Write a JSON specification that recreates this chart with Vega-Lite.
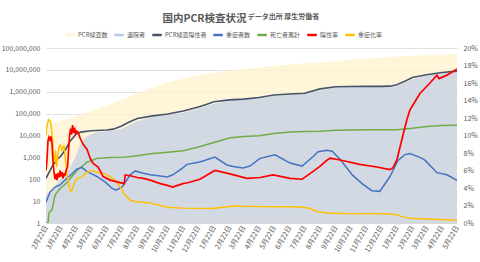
{
  "$schema": "https://vega.github.io/schema/vega-lite/v6.json",
  "width": 411,
  "height": 175,
  "autosize": {"type": "none"},
  "padding": {"left": 46, "top": 48, "right": 23, "bottom": 39},
  "background": "white",
  "title": {
    "text": "国内PCR検査状況",
    "anchor": "middle",
    "frame": "group",
    "dx": -47,
    "baseline": "alphabetic",
    "font": "Noto Sans CJK JP",
    "fontSize": 10.5,
    "fontWeight": "bold",
    "color": "#595959",
    "offset": -20
  },
  "datasets": {
    "tests": [
      {"d": "2020-02-22", "v": 31000}, {"d": "2020-03-11", "v": 40000}, {"d": "2020-04-03", "v": 55000},
      {"d": "2020-04-14", "v": 66000}, {"d": "2020-05-10", "v": 110000}, {"d": "2020-06-09", "v": 190000},
      {"d": "2020-07-19", "v": 400000}, {"d": "2020-08-22", "v": 850000}, {"d": "2020-10-07", "v": 2100000},
      {"d": "2020-12-10", "v": 5300000}, {"d": "2021-02-17", "v": 9100000}, {"d": "2021-04-24", "v": 13000000},
      {"d": "2021-06-29", "v": 18600000}, {"d": "2021-08-22", "v": 22000000}, {"d": "2021-11-09", "v": 31600000},
      {"d": "2022-02-17", "v": 44700000}, {"d": "2022-05-22", "v": 53000000}
    ],
    "discharged": [
      {"d": "2020-02-22", "v": 20}, {"d": "2020-03-08", "v": 40}, {"d": "2020-03-21", "v": 100},
      {"d": "2020-04-08", "v": 300}, {"d": "2020-04-20", "v": 960}, {"d": "2020-04-30", "v": 3800},
      {"d": "2020-05-10", "v": 7700}, {"d": "2020-05-20", "v": 11000}, {"d": "2020-06-05", "v": 14500},
      {"d": "2020-06-22", "v": 15800}, {"d": "2020-07-22", "v": 20000}, {"d": "2020-08-22", "v": 45000},
      {"d": "2020-09-22", "v": 70000}, {"d": "2020-10-22", "v": 87000}, {"d": "2020-11-22", "v": 110000},
      {"d": "2020-12-22", "v": 170000}, {"d": "2021-01-22", "v": 280000}, {"d": "2021-02-22", "v": 400000},
      {"d": "2021-03-22", "v": 440000}, {"d": "2021-04-22", "v": 500000}, {"d": "2021-05-22", "v": 630000},
      {"d": "2021-06-22", "v": 760000}, {"d": "2021-07-22", "v": 820000}, {"d": "2021-08-22", "v": 1100000},
      {"d": "2021-09-22", "v": 1600000}, {"d": "2021-10-22", "v": 1690000}, {"d": "2021-11-22", "v": 1705000},
      {"d": "2021-12-22", "v": 1710000}, {"d": "2022-01-22", "v": 1800000}, {"d": "2022-02-22", "v": 3600000},
      {"d": "2022-03-22", "v": 5500000}, {"d": "2022-04-22", "v": 7000000}, {"d": "2022-05-22", "v": 8200000}
    ],
    "positives": [
      {"d": "2020-02-22", "v": 110}, {"d": "2020-03-01", "v": 250}, {"d": "2020-03-07", "v": 450},
      {"d": "2020-03-15", "v": 800}, {"d": "2020-03-22", "v": 1100}, {"d": "2020-04-01", "v": 2300},
      {"d": "2020-04-10", "v": 5500}, {"d": "2020-04-22", "v": 11500}, {"d": "2020-05-01", "v": 14300},
      {"d": "2020-05-22", "v": 16500}, {"d": "2020-06-22", "v": 17900}, {"d": "2020-07-05", "v": 19500},
      {"d": "2020-07-22", "v": 27000}, {"d": "2020-08-05", "v": 40000}, {"d": "2020-08-22", "v": 60000},
      {"d": "2020-09-22", "v": 79000}, {"d": "2020-10-22", "v": 96000}, {"d": "2020-11-22", "v": 132000},
      {"d": "2020-12-22", "v": 200000}, {"d": "2021-01-08", "v": 270000}, {"d": "2021-01-22", "v": 350000},
      {"d": "2021-02-22", "v": 425000}, {"d": "2021-03-22", "v": 460000}, {"d": "2021-04-22", "v": 550000},
      {"d": "2021-05-22", "v": 710000}, {"d": "2021-06-22", "v": 785000}, {"d": "2021-07-22", "v": 860000},
      {"d": "2021-08-22", "v": 1350000}, {"d": "2021-09-22", "v": 1700000}, {"d": "2021-10-22", "v": 1750000},
      {"d": "2021-11-22", "v": 1760000}, {"d": "2021-12-22", "v": 1770000}, {"d": "2022-01-08", "v": 1800000},
      {"d": "2022-01-22", "v": 2100000}, {"d": "2022-02-08", "v": 3100000}, {"d": "2022-02-22", "v": 4500000},
      {"d": "2022-03-22", "v": 6000000}, {"d": "2022-04-22", "v": 7600000}, {"d": "2022-05-22", "v": 8800000}
    ],
    "severe": [
      {"d": "2020-02-22", "v": 9}, {"d": "2020-03-01", "v": 26}, {"d": "2020-03-11", "v": 44},
      {"d": "2020-03-21", "v": 55}, {"d": "2020-03-31", "v": 92}, {"d": "2020-04-13", "v": 170},
      {"d": "2020-04-24", "v": 300}, {"d": "2020-05-04", "v": 340}, {"d": "2020-05-14", "v": 225},
      {"d": "2020-06-03", "v": 132}, {"d": "2020-06-20", "v": 72}, {"d": "2020-07-03", "v": 38},
      {"d": "2020-07-11", "v": 32}, {"d": "2020-07-23", "v": 45}, {"d": "2020-08-08", "v": 160},
      {"d": "2020-08-18", "v": 240}, {"d": "2020-09-03", "v": 190}, {"d": "2020-09-17", "v": 160},
      {"d": "2020-10-07", "v": 140}, {"d": "2020-10-21", "v": 128}, {"d": "2020-11-01", "v": 160},
      {"d": "2020-11-21", "v": 330}, {"d": "2020-11-29", "v": 480}, {"d": "2020-12-25", "v": 620},
      {"d": "2021-01-24", "v": 1040}, {"d": "2021-02-17", "v": 450}, {"d": "2021-03-01", "v": 380},
      {"d": "2021-03-21", "v": 330}, {"d": "2021-04-04", "v": 400}, {"d": "2021-04-24", "v": 900},
      {"d": "2021-05-24", "v": 1300}, {"d": "2021-06-23", "v": 550}, {"d": "2021-07-17", "v": 400},
      {"d": "2021-08-08", "v": 1100}, {"d": "2021-08-18", "v": 1800}, {"d": "2021-09-05", "v": 2100},
      {"d": "2021-09-15", "v": 1900}, {"d": "2021-10-01", "v": 800}, {"d": "2021-10-26", "v": 150},
      {"d": "2021-11-15", "v": 60}, {"d": "2021-12-03", "v": 30}, {"d": "2021-12-19", "v": 28},
      {"d": "2022-01-08", "v": 130}, {"d": "2022-01-24", "v": 700}, {"d": "2022-02-06", "v": 1300},
      {"d": "2022-02-17", "v": 1500}, {"d": "2022-03-09", "v": 1000}, {"d": "2022-03-19", "v": 750},
      {"d": "2022-04-12", "v": 200}, {"d": "2022-05-02", "v": 160}, {"d": "2022-05-22", "v": 90}
    ],
    "deaths": [
      {"d": "2020-02-22", "v": 1}, {"d": "2020-02-26", "v": 1}, {"d": "2020-02-28", "v": 3},
      {"d": "2020-03-05", "v": 4}, {"d": "2020-03-10", "v": 15}, {"d": "2020-03-13", "v": 22},
      {"d": "2020-03-22", "v": 40}, {"d": "2020-04-03", "v": 67}, {"d": "2020-04-24", "v": 250},
      {"d": "2020-05-14", "v": 600}, {"d": "2020-06-03", "v": 900}, {"d": "2020-06-29", "v": 980},
      {"d": "2020-07-22", "v": 1000}, {"d": "2020-08-22", "v": 1200}, {"d": "2020-09-22", "v": 1500},
      {"d": "2020-10-22", "v": 1700}, {"d": "2020-11-22", "v": 2000}, {"d": "2020-12-22", "v": 3000},
      {"d": "2021-01-22", "v": 4800}, {"d": "2021-02-22", "v": 7600}, {"d": "2021-03-22", "v": 8900},
      {"d": "2021-04-22", "v": 9700}, {"d": "2021-05-22", "v": 12300}, {"d": "2021-06-22", "v": 14400},
      {"d": "2021-07-22", "v": 15100}, {"d": "2021-08-22", "v": 15800}, {"d": "2021-09-22", "v": 17300},
      {"d": "2021-10-22", "v": 18000}, {"d": "2021-11-22", "v": 18300}, {"d": "2021-12-22", "v": 18400},
      {"d": "2022-01-22", "v": 18500}, {"d": "2022-02-22", "v": 21500}, {"d": "2022-03-22", "v": 26000},
      {"d": "2022-04-22", "v": 28500}, {"d": "2022-05-22", "v": 29500}
    ],
    "posrate": [
      {"d": "2020-02-22", "v": 0.060}, {"d": "2020-02-24", "v": 0.072}, {"d": "2020-02-26", "v": 0.094},
      {"d": "2020-02-28", "v": 0.098}, {"d": "2020-03-01", "v": 0.095}, {"d": "2020-03-03", "v": 0.099},
      {"d": "2020-03-05", "v": 0.090}, {"d": "2020-03-07", "v": 0.070}, {"d": "2020-03-09", "v": 0.058},
      {"d": "2020-03-11", "v": 0.050}, {"d": "2020-03-13", "v": 0.056}, {"d": "2020-03-15", "v": 0.049},
      {"d": "2020-03-17", "v": 0.057}, {"d": "2020-03-19", "v": 0.052}, {"d": "2020-03-21", "v": 0.060},
      {"d": "2020-03-23", "v": 0.053}, {"d": "2020-03-25", "v": 0.058}, {"d": "2020-03-27", "v": 0.051},
      {"d": "2020-03-29", "v": 0.056}, {"d": "2020-03-31", "v": 0.055}, {"d": "2020-04-02", "v": 0.060},
      {"d": "2020-04-05", "v": 0.064}, {"d": "2020-04-07", "v": 0.083}, {"d": "2020-04-09", "v": 0.100},
      {"d": "2020-04-11", "v": 0.108}, {"d": "2020-04-13", "v": 0.101}, {"d": "2020-04-15", "v": 0.112},
      {"d": "2020-04-17", "v": 0.103}, {"d": "2020-04-19", "v": 0.109}, {"d": "2020-04-21", "v": 0.101},
      {"d": "2020-04-23", "v": 0.105}, {"d": "2020-04-26", "v": 0.104}, {"d": "2020-04-30", "v": 0.097},
      {"d": "2020-05-06", "v": 0.090}, {"d": "2020-05-14", "v": 0.084}, {"d": "2020-05-20", "v": 0.074},
      {"d": "2020-05-26", "v": 0.068}, {"d": "2020-06-05", "v": 0.064}, {"d": "2020-06-15", "v": 0.053},
      {"d": "2020-06-29", "v": 0.049}, {"d": "2020-07-13", "v": 0.047}, {"d": "2020-07-27", "v": 0.045},
      {"d": "2020-07-29", "v": 0.055}, {"d": "2020-08-08", "v": 0.054}, {"d": "2020-08-22", "v": 0.052},
      {"d": "2020-09-03", "v": 0.051}, {"d": "2020-09-17", "v": 0.049}, {"d": "2020-10-07", "v": 0.045},
      {"d": "2020-10-21", "v": 0.043}, {"d": "2020-11-01", "v": 0.041}, {"d": "2020-11-21", "v": 0.045},
      {"d": "2020-12-01", "v": 0.046}, {"d": "2020-12-25", "v": 0.050}, {"d": "2021-01-24", "v": 0.060},
      {"d": "2021-02-17", "v": 0.057}, {"d": "2021-03-29", "v": 0.051}, {"d": "2021-04-24", "v": 0.052},
      {"d": "2021-05-20", "v": 0.055}, {"d": "2021-06-23", "v": 0.051}, {"d": "2021-07-17", "v": 0.050},
      {"d": "2021-08-08", "v": 0.059}, {"d": "2021-08-22", "v": 0.065}, {"d": "2021-09-05", "v": 0.072},
      {"d": "2021-09-11", "v": 0.074}, {"d": "2021-10-01", "v": 0.072}, {"d": "2021-11-09", "v": 0.067},
      {"d": "2021-12-13", "v": 0.064}, {"d": "2022-01-08", "v": 0.061}, {"d": "2022-01-14", "v": 0.063},
      {"d": "2022-01-22", "v": 0.072}, {"d": "2022-01-28", "v": 0.086}, {"d": "2022-02-03", "v": 0.100},
      {"d": "2022-02-11", "v": 0.118}, {"d": "2022-02-17", "v": 0.129}, {"d": "2022-03-09", "v": 0.148},
      {"d": "2022-03-29", "v": 0.160}, {"d": "2022-04-12", "v": 0.169}, {"d": "2022-04-16", "v": 0.165},
      {"d": "2022-05-02", "v": 0.169}, {"d": "2022-05-22", "v": 0.176}
    ],
    "sevrate": [
      {"d": "2020-02-22", "v": 0.100}, {"d": "2020-02-23", "v": 0.108}, {"d": "2020-02-27", "v": 0.118},
      {"d": "2020-03-02", "v": 0.116}, {"d": "2020-03-06", "v": 0.097}, {"d": "2020-03-08", "v": 0.076},
      {"d": "2020-03-11", "v": 0.070}, {"d": "2020-03-12", "v": 0.083}, {"d": "2020-03-14", "v": 0.064},
      {"d": "2020-03-19", "v": 0.087}, {"d": "2020-03-22", "v": 0.089}, {"d": "2020-03-25", "v": 0.083},
      {"d": "2020-03-29", "v": 0.089}, {"d": "2020-04-01", "v": 0.070}, {"d": "2020-04-07", "v": 0.045},
      {"d": "2020-04-11", "v": 0.036}, {"d": "2020-04-14", "v": 0.0375}, {"d": "2020-04-18", "v": 0.045},
      {"d": "2020-04-24", "v": 0.051}, {"d": "2020-05-04", "v": 0.053}, {"d": "2020-05-14", "v": 0.058},
      {"d": "2020-05-24", "v": 0.060}, {"d": "2020-06-03", "v": 0.058}, {"d": "2020-06-15", "v": 0.057},
      {"d": "2020-06-29", "v": 0.053}, {"d": "2020-07-09", "v": 0.049}, {"d": "2020-07-19", "v": 0.041},
      {"d": "2020-07-29", "v": 0.032}, {"d": "2020-08-08", "v": 0.026}, {"d": "2020-08-22", "v": 0.024},
      {"d": "2020-09-17", "v": 0.023}, {"d": "2020-10-07", "v": 0.020}, {"d": "2020-10-21", "v": 0.018},
      {"d": "2020-11-21", "v": 0.017}, {"d": "2021-01-20", "v": 0.0165}, {"d": "2021-03-01", "v": 0.0195},
      {"d": "2021-04-04", "v": 0.019}, {"d": "2021-05-14", "v": 0.0185}, {"d": "2021-06-23", "v": 0.0185},
      {"d": "2021-07-19", "v": 0.018}, {"d": "2021-08-02", "v": 0.0165}, {"d": "2021-08-16", "v": 0.013},
      {"d": "2021-09-05", "v": 0.0115}, {"d": "2021-10-07", "v": 0.0108}, {"d": "2022-01-08", "v": 0.0105},
      {"d": "2022-01-24", "v": 0.009}, {"d": "2022-02-03", "v": 0.007}, {"d": "2022-02-17", "v": 0.0055},
      {"d": "2022-03-19", "v": 0.0045}, {"d": "2022-05-22", "v": 0.003}
    ]
  },
  "layer": [
    {
      "layer": [
        {
          "data": {"name": "tests"},
          "mark": {"type": "area", "opacity": 0.75, "clip": true},
          "encoding": {
            "x": {
              "field": "d", "type": "temporal",
              "scale": {"type": "utc", "domain": [{"year": 2020, "month": 2, "date": 22, "utc": true}, {"year": 2022, "month": 5, "date": 22, "utc": true}]},
              "axis": {
                "values": [
                  {"year": 2020, "month": 2, "date": 22, "utc": true}, {"year": 2020, "month": 3, "date": 22, "utc": true},
                  {"year": 2020, "month": 4, "date": 22, "utc": true}, {"year": 2020, "month": 5, "date": 22, "utc": true},
                  {"year": 2020, "month": 6, "date": 22, "utc": true}, {"year": 2020, "month": 7, "date": 22, "utc": true},
                  {"year": 2020, "month": 8, "date": 22, "utc": true}, {"year": 2020, "month": 9, "date": 22, "utc": true},
                  {"year": 2020, "month": 10, "date": 22, "utc": true}, {"year": 2020, "month": 11, "date": 22, "utc": true},
                  {"year": 2020, "month": 12, "date": 22, "utc": true}, {"year": 2021, "month": 1, "date": 22, "utc": true},
                  {"year": 2021, "month": 2, "date": 22, "utc": true}, {"year": 2021, "month": 3, "date": 22, "utc": true},
                  {"year": 2021, "month": 4, "date": 22, "utc": true}, {"year": 2021, "month": 5, "date": 22, "utc": true},
                  {"year": 2021, "month": 6, "date": 22, "utc": true}, {"year": 2021, "month": 7, "date": 22, "utc": true},
                  {"year": 2021, "month": 8, "date": 22, "utc": true}, {"year": 2021, "month": 9, "date": 22, "utc": true},
                  {"year": 2021, "month": 10, "date": 22, "utc": true}, {"year": 2021, "month": 11, "date": 22, "utc": true},
                  {"year": 2021, "month": 12, "date": 22, "utc": true}, {"year": 2022, "month": 1, "date": 22, "utc": true},
                  {"year": 2022, "month": 2, "date": 22, "utc": true}, {"year": 2022, "month": 3, "date": 22, "utc": true},
                  {"year": 2022, "month": 4, "date": 22, "utc": true}, {"year": 2022, "month": 5, "date": 22, "utc": true}
                ],
                "tickCount": 100,
                "labelExpr": "utcFormat(datum.value, '%-m月%-d日')",
                "labelAngle": -60,
                "labelPadding": 3,
                "labelOverlap": false,
                "labelBound": false,
                "labelFlush": false,
                "domain": true,
                "domainColor": "#d9d9d9",
                "ticks": false,
                "grid": false,
                "title": null
              }
            },
            "y": {
              "field": "v", "type": "quantitative",
              "scale": {"type": "log", "domain": [1, 100000000], "nice": false},
              "axis": {
                "values": [1, 10, 100, 1000, 10000, 100000, 1000000, 10000000, 100000000],
                "tickCount": 100,
                "format": ",",
                "grid": true,
                "gridColor": "#d9d9d9",
                "gridWidth": 0.8,
                "domain": false,
                "ticks": false,
                "labelPadding": 6,
                "labelOverlap": false,
                "title": null
              }
            },
            "y2": {"datum": 1},
            "color": {
              "datum": "PCR検査数",
              "type": "nominal",
              "scale": {
                "domain": ["PCR検査数", "退院者", "PCR検査陽性者", "重症者数", "死亡者累計", "陽性率", "重症化率"],
                "range": ["#fff2cc", "#b4c7e7", "#44546a", "#4472c4", "#70ad47", "#ff0000", "#ffc000"]
              },
              "legend": {
                "orient": "none",
                "legendX": 18,
                "legendY": -19,
                "direction": "horizontal",
                "columns": 7,
                "title": null,
                "symbolType": "stroke",
                "symbolSize": 90,
                "symbolStrokeWidth": 2.5,
                "symbolOpacity": 1,
                "labelFont": "Noto Sans CJK JP",
                "labelFontSize": 6,
                "labelColor": "#595959",
                "labelOffset": 2,
                "columnPadding": 1,
                "encode": {
                  "symbols": {
                    "update": {
                      "stroke": {"scale": "color", "field": "value"},
                      "fill": {"value": "transparent"},
                      "opacity": {"value": 1},
                      "strokeOpacity": {"value": 1},
                      "strokeWidth": {"value": 2.5}
                    }
                  }
                }
              }
            }
          }
        },
        {
          "data": {"name": "discharged"},
          "mark": {"type": "area", "opacity": 0.6, "clip": true},
          "encoding": {
            "x": {"field": "d", "type": "temporal"},
            "y": {"field": "v", "type": "quantitative"},
            "y2": {"datum": 1},
            "color": {"datum": "退院者", "type": "nominal"}
          }
        },
        {
          "data": {"name": "positives"},
          "mark": {"type": "line", "strokeWidth": 1.6, "clip": true},
          "encoding": {
            "x": {"field": "d", "type": "temporal"},
            "y": {"field": "v", "type": "quantitative"},
            "color": {"datum": "PCR検査陽性者", "type": "nominal"}
          }
        },
        {
          "data": {"name": "deaths"},
          "mark": {"type": "line", "strokeWidth": 1.5, "clip": true},
          "encoding": {
            "x": {"field": "d", "type": "temporal"},
            "y": {"field": "v", "type": "quantitative"},
            "color": {"datum": "死亡者累計", "type": "nominal"}
          }
        },
        {
          "data": {"name": "severe"},
          "mark": {"type": "line", "strokeWidth": 1.5, "clip": true},
          "encoding": {
            "x": {"field": "d", "type": "temporal"},
            "y": {"field": "v", "type": "quantitative"},
            "color": {"datum": "重症者数", "type": "nominal"}
          }
        }
      ]
    },
    {
      "layer": [
        {
          "data": {"name": "sevrate"},
          "mark": {"type": "line", "strokeWidth": 1.5, "clip": true},
          "encoding": {
            "x": {
              "field": "d", "type": "temporal",
              "axis": {
                "orient": "top",
                "labels": false,
                "ticks": false,
                "domain": false,
                "grid": false,
                "title": "データ出所 厚生労働省",
                "titleFont": "Noto Sans CJK JP",
                "titleFontSize": 7,
                "titleFontWeight": "bold",
                "titleColor": "#595959",
                "titleAlign": "center",
                "titleBaseline": "alphabetic",
                "titleAnchor": null,
                "titleX": 237,
                "titleY": -30
              }
            },
            "y": {
              "field": "v", "type": "quantitative",
              "scale": {"domain": [0, 0.2], "nice": false},
              "axis": {
                "orient": "right",
                "values": [0, 0.02, 0.04, 0.06, 0.08, 0.1, 0.12, 0.14, 0.16, 0.18, 0.2],
                "tickCount": 100,
                "format": ".0%",
                "grid": false,
                "domain": false,
                "ticks": false,
                "labelPadding": 6,
                "labelOverlap": false,
                "title": null
              }
            },
            "color": {"datum": "重症化率", "type": "nominal"}
          }
        },
        {
          "data": {"name": "posrate"},
          "mark": {"type": "line", "strokeWidth": 1.7, "clip": true},
          "encoding": {
            "x": {"field": "d", "type": "temporal"},
            "y": {"field": "v", "type": "quantitative"},
            "color": {"datum": "陽性率", "type": "nominal"}
          }
        }
      ]
    }
  ],
  "resolve": {"scale": {"y": "independent"}, "axis": {"x": "independent"}},
  "config": {
    "view": {"stroke": null},
    "font": "Noto Sans CJK JP",
    "axis": {
      "labelFont": "Noto Sans CJK JP",
      "labelFontSize": 7,
      "labelColor": "#595959"
    }
  }
}
